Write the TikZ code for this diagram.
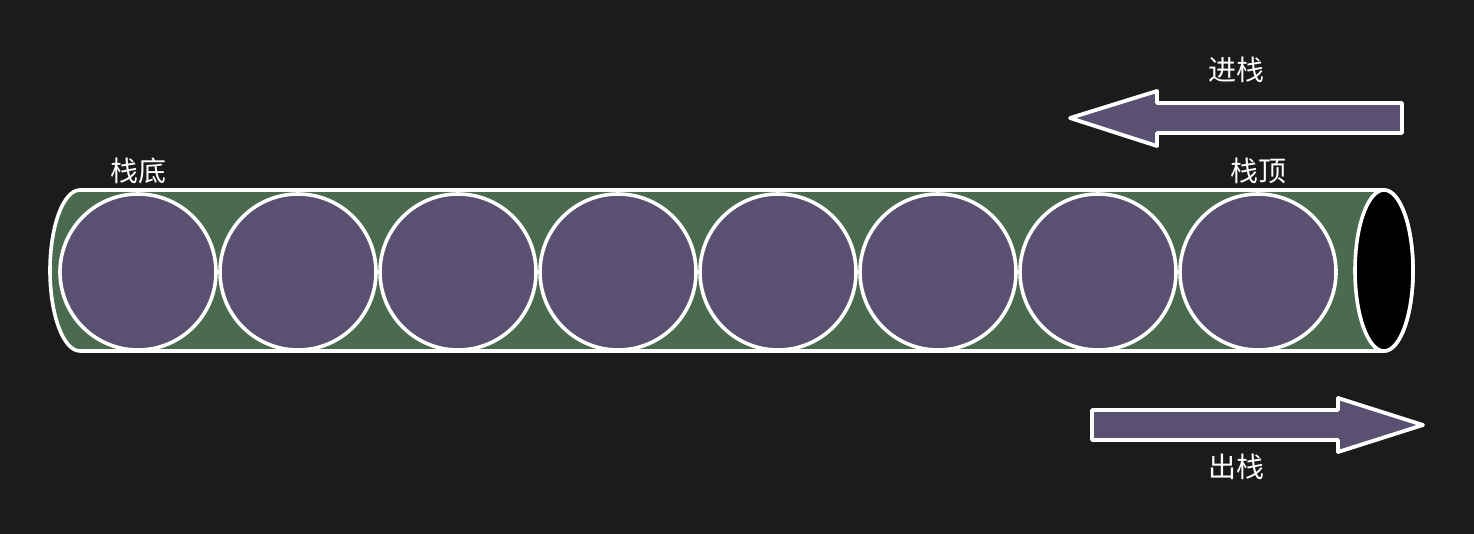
\documentclass[tikz,border=0pt]{standalone}
\usepackage{fontspec}
\newfontfamily\cjk{Noto Sans CJK SC}
\definecolor{bg}{HTML}{1B1B1B}
\definecolor{tube}{HTML}{4A6B4F}
\definecolor{ball}{HTML}{5A5072}
\begin{document}
\begin{tikzpicture}[x=1pt,y=-1pt,
  outline/.style={draw=white,line width=3.6pt},
  ballnode/.style={circle,outline,fill=ball,minimum size=156pt,inner sep=0pt},
  lbl/.style={text=white,font=\cjk\fontsize{28}{32}\selectfont,inner sep=0pt},
  arrowshape/.style={draw=white,line width=3.8pt,fill=ball,line join=round}]
\fill[bg] (0,0) rectangle (1474,534);
\useasboundingbox (0,0) rectangle (1474,534);
% tube
\filldraw[outline,fill=tube] (1384,190) -- (80,190) arc[start angle=90,end angle=270,x radius=30,y radius=-80.5] -- (1384,351) arc[start angle=270,end angle=450,x radius=29,y radius=-80.5] -- cycle;
\filldraw[outline,fill=black] (1384,270.5) ellipse[x radius=29,y radius=80.5];
% balls
\foreach \i/\x in {1/138,2/298,3/458,4/618,5/778,6/938,7/1098,8/1258}
  \node[ballnode] (b\i) at (\x,272) {};
% labels
\node[lbl] (bottom) at (138,171) {栈底};
\node[lbl] (top) at (1258,171) {栈顶};
\node[lbl] (push) at (1236,70) {进栈};
\node[lbl] (pop) at (1236,467) {出栈};
% arrows
\draw[arrowshape] (1070,118) -- (1157,91) -- (1157,103) -- (1402,103) -- (1402,133) -- (1157,133) -- (1157,146) -- cycle;
\draw[arrowshape] (1423,425) -- (1338,398) -- (1338,410) -- (1092,410) -- (1092,440) -- (1338,440) -- (1338,452) -- cycle;
\end{tikzpicture}
\end{document}
